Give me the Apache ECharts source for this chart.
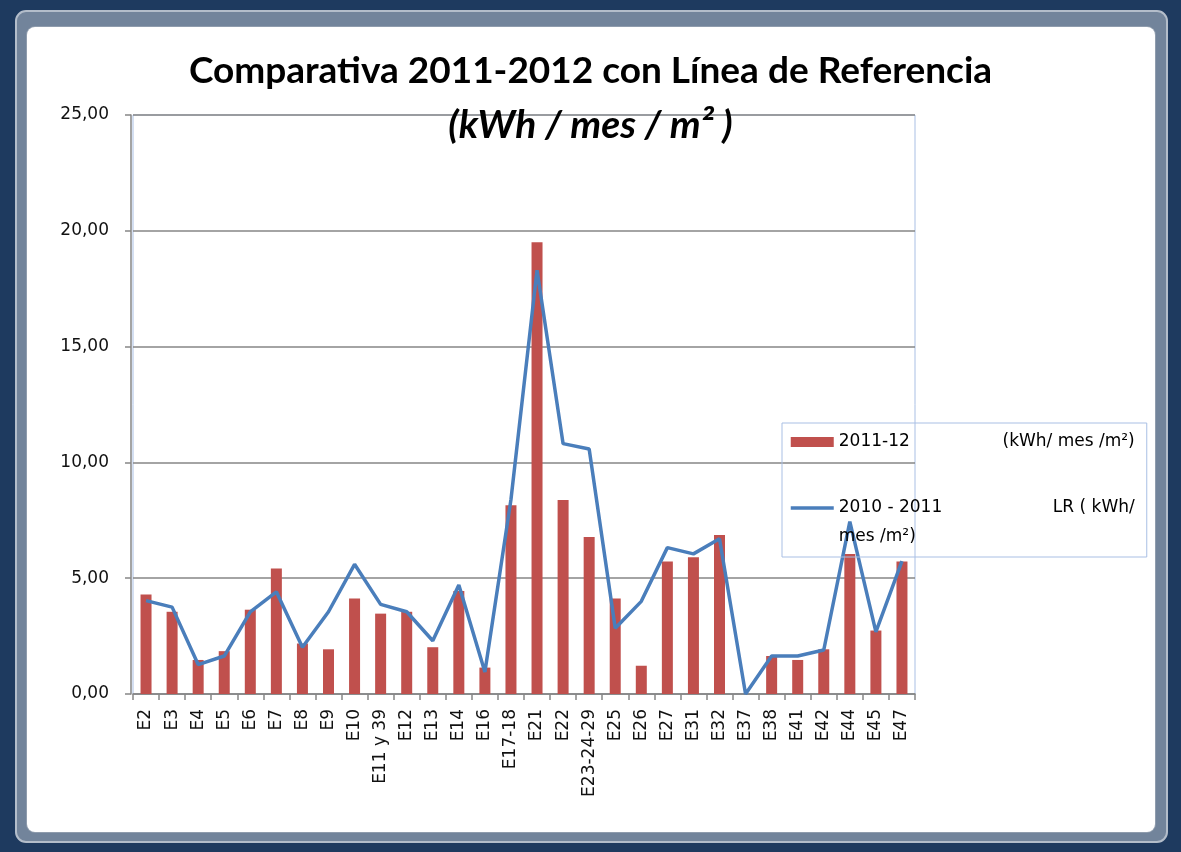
<!DOCTYPE html>
<html>
<head>
<meta charset="utf-8">
<script src="https://cdn.jsdelivr.net/npm/echarts@6/dist/echarts.min.js"></script>
<style>
  html, body { margin: 0; padding: 0; width: 1181px; height: 852px; overflow: hidden; background: #1e3a5f; }
  #frame { position: absolute; left: 15px; top: 10px; width: 1149px; height: 829px; background: #72849b; border: 2px solid #b3bdca; border-radius: 11px; }
  #inner { position: absolute; left: 27px; top: 27px; width: 1128px; height: 805px; background: #ffffff; border-radius: 8px; box-shadow: 0 0 0 1px #8f9cad; }
  #chart { position: absolute; left: 0; top: 0; width: 1181px; height: 852px; }
</style>
</head>
<body>
<div id="frame"></div>
<div id="inner"></div>
<div id="chart"></div>
<script>
const categories = ['E2','E3','E4','E5','E6','E7','E8','E9','E10','E11 y 39','E12','E13','E14','E16','E17-18','E21','E22','E23-24-29','E25','E26','E27','E31','E32','E37','E38','E41','E42','E44','E45','E47'];
const values2011_12 = [4.30, 3.55, 1.47, 1.85, 3.64, 5.42, 2.18, 1.93, 4.12, 3.47, 3.55, 2.02, 4.45, 1.14, 8.15, 19.51, 8.38, 6.78, 4.12, 1.22, 5.72, 5.90, 6.86, 0, 1.64, 1.47, 1.93, 6.05, 2.74, 5.72];
const values2010_11 = [4.03, 3.75, 1.27, 1.64, 3.55, 4.41, 2.02, 3.55, 5.60, 3.87, 3.55, 2.30, 4.71, 0.95, 8.40, 18.30, 10.81, 10.58, 2.84, 4.00, 6.32, 6.05, 6.70, 0, 1.64, 1.64, 1.90, 7.44, 2.68, 5.74];
const yTickLabels = ['0,00', '5,00', '10,00', '15,00', '20,00', '25,00'];
const seriesNames = ['2011-12', '2010 - 2011'];
const titleLine1 = 'Comparativa 2011-2012 con Línea de Referencia';
const titleLine2 = '(kWh / mes / m² )';

const chart = echarts.init(document.getElementById('chart'), null, { renderer: 'canvas' });
const FONT = 'DejaVu Sans';
const AX = '#868686';
const LINE_COLOR = '#4a7ebb';

chart.setOption({
  backgroundColor: 'transparent',
  animation: false,
  title: {
    text: '{a|' + titleLine1 + '}\n{b|' + titleLine2 + '}',
    left: 'center',
    top: 39,
    textStyle: {
      rich: {
        a: { fontFamily: 'Lato', fontWeight: 'bold', fontSize: 37, color: '#000', lineHeight: 54 },
        b: { fontFamily: 'Lato', fontWeight: 'bold', fontStyle: 'italic', fontSize: 39, color: '#000', lineHeight: 54 }
      }
    }
  },
  grid: {
    left: 133, top: 115, width: 782, height: 579,
    show: true, borderColor: '#a9bfe4', borderWidth: 1, backgroundColor: 'transparent'
  },
  legend: {
    orient: 'vertical',
    left: 782, top: 423,
    padding: [4.5, 12, 5.5, 7],
    itemGap: 8,
    itemWidth: 43, itemHeight: 10,
    borderColor: '#a9bfe4', borderWidth: 1,
    backgroundColor: 'transparent',
    selectedMode: false,
    data: [
      { name: seriesNames[0], icon: 'rect' },
      { name: seriesNames[1], itemStyle: { opacity: 0 }, lineStyle: { width: 3.5, color: LINE_COLOR } }
    ],
    formatter: function (name) {
      if (name === seriesNames[0]) {
        return '{a|' + name + '}{b|(kWh/ mes /m²)}';
      }
      return '\n{a|' + name + '}{b|LR ( kWh/}\n{a|mes /m²)}';
    },
    textStyle: {
      fontFamily: FONT, fontSize: 17, color: '#000', lineHeight: 29,
      rich: {
        a: { fontFamily: FONT, fontSize: 17, color: '#000', width: 153, lineHeight: 29 },
        b: { fontFamily: FONT, fontSize: 17, color: '#000', width: 143, align: 'right', lineHeight: 29 }
      }
    }
  },
  xAxis: {
    type: 'category',
    data: categories,
    boundaryGap: true,
    axisLine: { show: true, lineStyle: { color: AX, width: 1.5 } },
    axisTick: { show: true, length: 6, lineStyle: { color: AX, width: 1.5 }, alignWithLabel: false },
    axisLabel: { rotate: 90, interval: 0, margin: 15, fontFamily: FONT, fontSize: 17, color: '#111' },
    splitLine: { show: false }
  },
  yAxis: {
    type: 'value',
    min: 0, max: 25, interval: 5,
    offset: 2,
    axisLine: { show: true, lineStyle: { color: AX, width: 1.5 } },
    axisTick: { show: true, length: 6, lineStyle: { color: AX, width: 1.5 } },
    axisLabel: {
      margin: 22, fontFamily: FONT, fontSize: 17, color: '#111',
      formatter: function (v, i) { return yTickLabels[i]; }
    },
    splitLine: { show: true, lineStyle: { color: AX, width: 1.5 } }
  },
  series: [
    {
      name: seriesNames[0],
      type: 'bar',
      data: values2011_12,
      barWidth: 11,
      itemStyle: { color: '#c0504d' },
      z: 2
    },
    {
      name: seriesNames[1],
      type: 'line',
      data: values2010_11,
      symbol: 'none',
      lineStyle: { color: LINE_COLOR, width: 3.5 },
      itemStyle: { color: LINE_COLOR },
      z: 3
    }
  ]
});
</script>
</body>
</html>
